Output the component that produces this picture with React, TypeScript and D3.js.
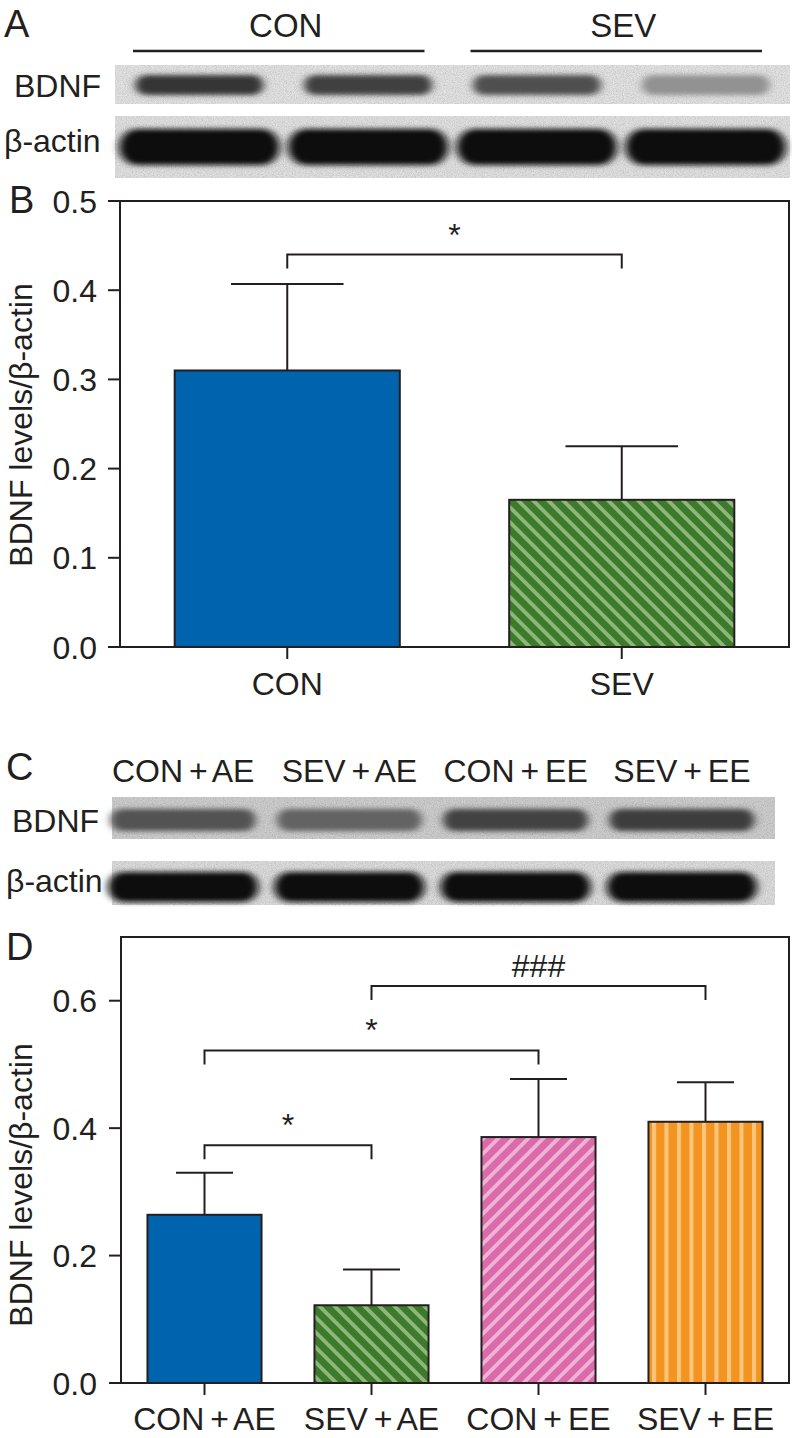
import React from 'react';
import * as d3 from 'd3';

// ---------- data ----------
const groupsB = ['CON', 'SEV'];
const meansB = [0.31, 0.165];
const errB = [0.097, 0.06];
const ticksB = [0, 0.1, 0.2, 0.3, 0.4, 0.5];
const bracketsB = [{ from: 0, to: 1, y: 0.44, label: '*' }];

const groupsD = ['CON + AE', 'SEV + AE', 'CON + EE', 'SEV + EE'];
const meansD = [0.264, 0.122, 0.386, 0.41];
const errD = [0.066, 0.056, 0.091, 0.062];
const ticksD = [0, 0.2, 0.4, 0.6];
const bracketsD = [
  { from: 0, to: 1, y: 0.373, label: '*' },
  { from: 0, to: 2, y: 0.522, label: '*' },
  { from: 1, to: 3, y: 0.623, label: '###' },
];

const lanesA = ['CON-1', 'CON-2', 'SEV-1', 'SEV-2'];
const bdnfA = [0.8, 0.76, 0.68, 0.38];
const actinA = [0.98, 0.97, 0.97, 0.98];
const headA = [
  { label: 'CON', lanes: ['CON-1', 'CON-2'] },
  { label: 'SEV', lanes: ['SEV-1', 'SEV-2'] },
];
const bdnfC = [0.64, 0.55, 0.72, 0.74];
const actinC = [0.98, 0.98, 0.98, 0.98];

const fills = ['#0063ae', 'url(#pGreen)', 'url(#pPink)', 'url(#pOrange)'];

const FONT = '"Liberation Sans", Arial, Helvetica, sans-serif';
const INK = '#231f20';

type BlotProps = {
  x0: number; x1: number; y0: number; y1: number;
  lanes: string[]; values: number[]; scale: d3.ScaleBand<string>;
  bw: number; bh: number; cy: number; bg: string; label: string; labelX: number; labelY: number;
};

function Blot(p: BlotProps) {
  const col = d3.interpolateRgb(p.bg, '#0b0b0b');
  return (
    <g>
      <rect x={p.x0} y={p.y0} width={p.x1 - p.x0} height={p.y1 - p.y0} fill={p.bg} filter="url(#grain)" />
      {p.lanes.map((l, i) => {
        const cx = (p.scale(l) as number) + p.scale.bandwidth() / 2;
        return (
          <rect key={l} x={cx - p.bw / 2} y={p.cy - p.bh / 2} width={p.bw} height={p.bh}
            rx={p.bh / 2} fill={col(p.values[i])} filter="url(#bandBlur)" />
        );
      })}
      <text x={p.labelX} y={p.labelY} fontSize={32} fontFamily={FONT} fill={INK}>{p.label}</text>
    </g>
  );
}

type BarProps = {
  groups: string[]; means: number[]; errs: number[]; ticks: number[];
  brackets: { from: number; to: number; y: number; label: string }[];
  x: d3.ScaleBand<string>; y: d3.ScaleLinear<number, number>;
  left: number; right: number; top: number; bottom: number; labelCy: number; xLabelY: number;
};

function BarPanel(p: BarProps) {
  const bw = p.x.bandwidth();
  const cx = (g: string) => (p.x(g) as number) + bw / 2;
  return (
    <g fontFamily={FONT} fill={INK}>
      {p.groups.map((g, i) => (
        <g key={g}>
          <line x1={cx(g)} x2={cx(g)} y1={p.y(p.means[i])} y2={p.y(p.means[i] + p.errs[i])} stroke={INK} strokeWidth={2} />
          <line x1={cx(g) - bw / 4} x2={cx(g) + bw / 4} y1={p.y(p.means[i] + p.errs[i])} y2={p.y(p.means[i] + p.errs[i])} stroke={INK} strokeWidth={2} />
          <rect x={p.x(g)} y={p.y(p.means[i])} width={bw} height={p.y(0) - p.y(p.means[i])}
            fill={fills[i]} stroke={INK} strokeWidth={2} />
        </g>
      ))}
      <rect x={p.left} y={p.top} width={p.right - p.left} height={p.bottom - p.top} fill="none" stroke={INK} strokeWidth={2} />
      {p.ticks.map((t) => (
        <g key={t}>
          <line x1={p.left - 12} x2={p.left} y1={p.y(t)} y2={p.y(t)} stroke={INK} strokeWidth={2} />
          <text x={97} y={p.y(t)} dy="0.36em" textAnchor="end" fontSize={32}>{d3.format('.1f')(t)}</text>
        </g>
      ))}
      {p.groups.map((g) => (
        <g key={g}>
          <line x1={cx(g)} x2={cx(g)} y1={p.bottom} y2={p.bottom + 12} stroke={INK} strokeWidth={2} />
          <text x={cx(g)} y={p.xLabelY} textAnchor="middle" fontSize={32} style={{ wordSpacing: '-3px' }}>{g}</text>
        </g>
      ))}
      {p.brackets.map((b, i) => {
        const xa = cx(p.groups[b.from]);
        const xb = cx(p.groups[b.to]);
        const yy = p.y(b.y);
        return (
          <g key={i}>
            <path d={`M${xa},${yy + 14}V${yy}H${xb}V${yy + 14}`} fill="none" stroke={INK} strokeWidth={2} />
            <text x={(xa + xb) / 2} y={yy - 9} textAnchor="middle" fontSize={b.label === '*' ? 32 : 32}>{b.label}</text>
          </g>
        );
      })}
      <text transform={`translate(32,${p.labelCy}) rotate(-90)`} textAnchor="middle" fontSize={32}>BDNF levels/β-actin</text>
    </g>
  );
}

export default function App() {
  const W = 792, H = 1438;
  const laneA = d3.scaleBand<string>().domain(lanesA).range([115, 790]);
  const laneC = d3.scaleBand<string>().domain(groupsD).range([100, 765]);

  const xB = d3.scaleBand<string>().domain(groupsB).range([120, 789]).paddingInner(0.327).paddingOuter(0.1635);
  const yB = d3.scaleLinear().domain([0, 0.5]).range([647, 201]);
  const xD = d3.scaleBand<string>().domain(groupsD).range([121, 789]).paddingInner(0.317).paddingOuter(0.1585);
  const yD = d3.scaleLinear().domain([0, 0.7]).range([1383, 937]);

  return (
    <svg width={W} height={H} style={{ position: 'absolute', left: 0, top: 0, background: '#fff' }}>
      <defs>
        <filter id="grain" x="0" y="0" width="100%" height="100%">
          <feTurbulence type="fractalNoise" baseFrequency="0.9" numOctaves={2} seed={4} result="n" />
          <feColorMatrix in="n" type="matrix" values="0 0 0 0 0  0 0 0 0 0  0 0 0 0 0  0.5 0 0 0 -0.15" result="na" />
          <feComposite in="na" in2="SourceAlpha" operator="in" result="nc" />
          <feMerge>
            <feMergeNode in="SourceGraphic" />
            <feMergeNode in="nc" />
          </feMerge>
        </filter>
        <filter id="bandBlur" x="-20%" y="-60%" width="140%" height="220%">
          <feGaussianBlur stdDeviation="4 2.5" />
        </filter>
        <pattern id="pGreen" patternUnits="userSpaceOnUse" width={10.6} height={10.6} patternTransform="rotate(-45)">
          <rect width={10.6} height={10.6} fill="#3c7b2b" />
          <rect width={3.8} height={10.6} fill="#91b67d" />
        </pattern>
        <pattern id="pPink" patternUnits="userSpaceOnUse" width={10.6} height={10.6} patternTransform="rotate(45)">
          <rect width={10.6} height={10.6} fill="#da6aa9" />
          <rect width={3.8} height={10.6} fill="#f0b3d7" />
        </pattern>
        <pattern id="pOrange" patternUnits="userSpaceOnUse" width={12.5} height={12.5} x={2}>
          <rect width={12.5} height={12.5} fill="#f39421" />
          <rect width={4} height={12.5} fill="#fdc57b" />
        </pattern>
      </defs>

      {/* Panel A */}
      <g fontFamily={FONT} fill={INK}>
        <text x={4} y={37} fontSize={38}>A</text>
        {headA.map((h) => {
          const xa = laneA(h.lanes[0]) as number;
          const xb = (laneA(h.lanes[h.lanes.length - 1]) as number) + laneA.bandwidth();
          return (
            <g key={h.label}>
              <text x={(xa + xb) / 2 + 2} y={37} textAnchor="middle" fontSize={33}>{h.label}</text>
              <line x1={xa + 18} x2={xb - 28} y1={51} y2={51} stroke={INK} strokeWidth={2.5} />
            </g>
          );
        })}
      </g>
      <Blot x0={115} x1={790} y0={65} y1={104} lanes={lanesA} values={bdnfA} scale={laneA}
        bw={128} bh={20} cy={85} bg="#e4e4e4" label="BDNF" labelX={14} labelY={97} />
      <Blot x0={115} x1={790} y0={116} y1={178} lanes={lanesA} values={actinA} scale={laneA}
        bw={160} bh={36} cy={147} bg="#e2e2e2" label="β-actin" labelX={4} labelY={152} />

      {/* Panel B */}
      <text x={9} y={213} fontSize={38} fontFamily={FONT} fill={INK}>B</text>
      <BarPanel groups={groupsB} means={meansB} errs={errB} ticks={ticksB} brackets={bracketsB}
        x={xB} y={yB} left={120} right={789} top={201} bottom={647} labelCy={425} xLabelY={695} />

      {/* Panel C */}
      <g fontFamily={FONT} fill={INK}>
        <text x={6} y={780} fontSize={38}>C</text>
        {groupsD.map((g) => (
          <text key={g} x={(laneC(g) as number) + laneC.bandwidth() / 2} y={782} textAnchor="middle" fontSize={32} style={{ wordSpacing: '-3px' }}>{g}</text>
        ))}
      </g>
      <Blot x0={112} x1={775} y0={797} y1={839} lanes={groupsD} values={bdnfC} scale={laneC}
        bw={145} bh={22} cy={820} bg="#cfcfcf" label="BDNF" labelX={12} labelY={832} />
      <Blot x0={112} x1={775} y0={861} y1={905} lanes={groupsD} values={actinC} scale={laneC}
        bw={150} bh={30} cy={887} bg="#dedede" label="β-actin" labelX={6} labelY={892} />

      {/* Panel D */}
      <text x={6} y={960} fontSize={38} fontFamily={FONT} fill={INK}>D</text>
      <BarPanel groups={groupsD} means={meansD} errs={errD} ticks={ticksD} brackets={bracketsD}
        x={xD} y={yD} left={121} right={789} top={937} bottom={1383} labelCy={1185} xLabelY={1430} />
    </svg>
  );
}
